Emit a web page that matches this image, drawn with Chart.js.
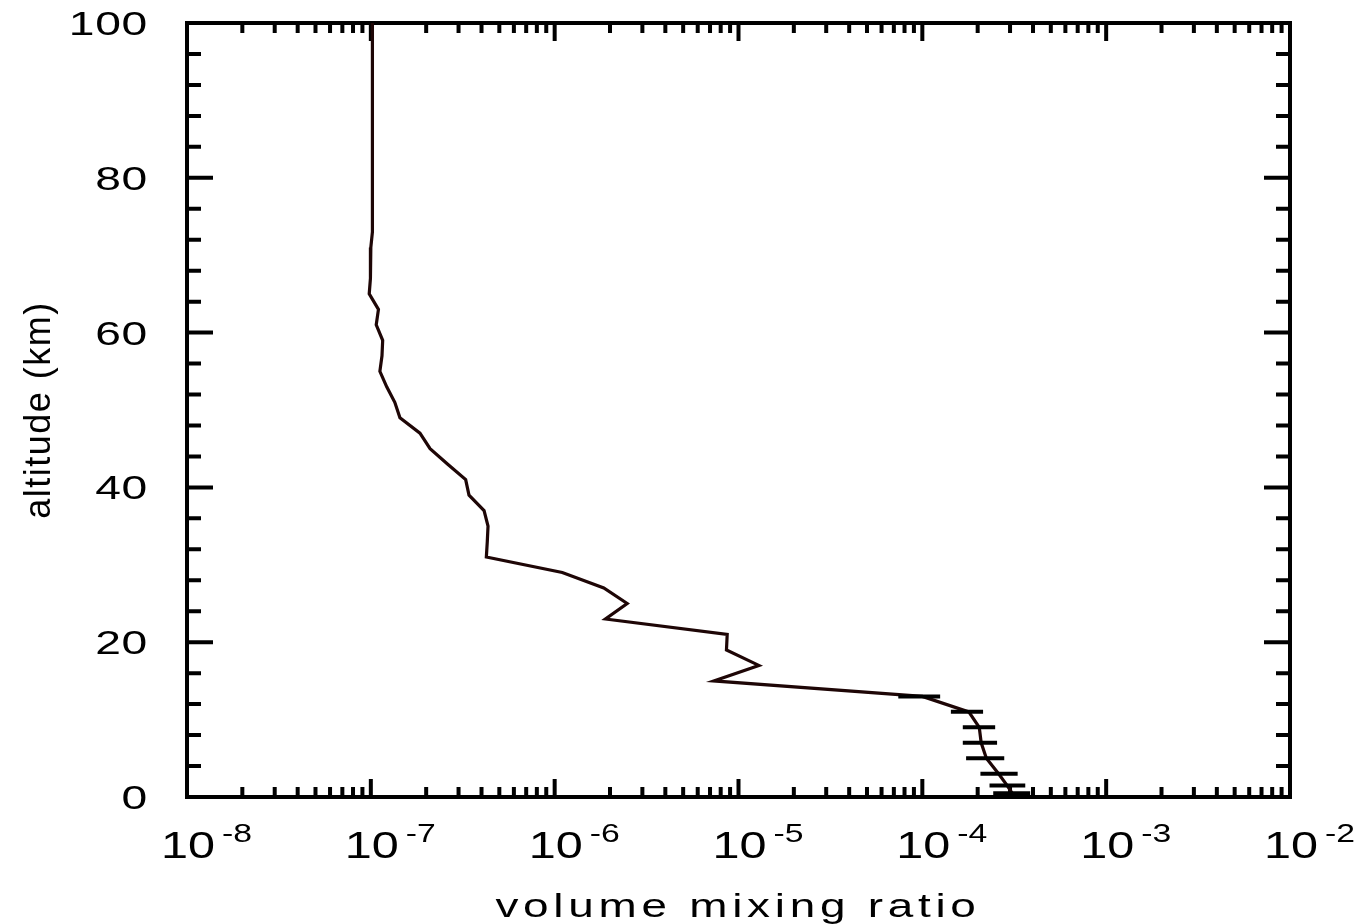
<!DOCTYPE html>
<html>
<head>
<meta charset="utf-8">
<script src="https://cdn.jsdelivr.net/npm/chart.js@4.4.1/dist/chart.umd.min.js"></script>
<style>
  html, body { margin: 0; padding: 0; background: #fff; }
  canvas { display: block; }
</style>
</head>
<body>
<canvas id="perfil" width="1363" height="924"></canvas>
<script>
// perfil vertical: altitud (km) y razon de mezcla
const altitud = [100, 90, 80, 73, 71, 69, 67, 65, 63, 61, 59, 57, 55, 53, 51, 49, 47, 45, 43, 41,
                 39, 37, 35, 33, 31, 29, 27, 25, 23, 21, 19, 17, 15, 13, 11, 9, 7, 5, 3, 1.5, 0.5];
const razonMezcla = [1.02e-7, 1.02e-7, 1.02e-7, 1.02e-7, 1.00e-7, 1.00e-7, 0.99e-7, 0.98e-7, 1.10e-7, 1.07e-7,
                     1.16e-7, 1.15e-7, 1.12e-7, 1.22e-7, 1.35e-7, 1.44e-7, 1.85e-7, 2.10e-7, 2.62e-7, 3.28e-7,
                     3.42e-7, 4.13e-7, 4.34e-7, 4.30e-7, 4.25e-7, 1.10e-6, 1.85e-6, 2.48e-6, 1.89e-6, 8.68e-6,
                     8.60e-6, 1.29e-5, 7.34e-6, 1.00e-4, 1.79e-4, 2.04e-4, 2.09e-4, 2.23e-4, 2.60e-4, 2.89e-4, 3.08e-4];

// barras de error (solo en la parte baja)
const altError = [13, 11, 9, 7, 5, 3, 1.5, 0.5];
const errorMin = [7.4e-5, 1.43e-4, 1.66e-4, 1.66e-4, 1.73e-4, 2.07e-4, 2.32e-4, 2.43e-4];
const errorMax = [1.25e-4, 2.14e-4, 2.49e-4, 2.55e-4, 2.79e-4, 3.30e-4, 3.63e-4, 3.86e-4];

// ejes
const exponentesX = [-8, -7, -6, -5, -4, -3, -2];
const marcasY = [0, 20, 40, 60, 80, 100];
const tituloX = 'volume mixing ratio';
const tituloY = 'altitude (km)';

const FUENTE = '"Liberation Sans", Arial, sans-serif';

function texto(ctx, str, x, y, size, sx, align, spacing) {
    ctx.save();
    ctx.translate(x, y);
    ctx.scale(sx, 1);
    ctx.font = `${size}px ${FUENTE}`;
    ctx.letterSpacing = (spacing || 0) + 'px';
    ctx.textAlign = align;
    ctx.textBaseline = 'alphabetic';
    ctx.fillText(str, 0, 0);
    ctx.restore();
}

const marcoYEtiquetas = {
    id: 'marcoYEtiquetas',
    // marcas y marco debajo de la curva
    beforeDatasetsDraw(chart) {
        const ctx = chart.ctx;
        const x = chart.scales.x;
        const y = chart.scales.y;
        const L = x.getPixelForValue(1e-8), R = x.getPixelForValue(1e-2);
        const T = y.getPixelForValue(100), B = y.getPixelForValue(0);
        ctx.save();
        ctx.strokeStyle = '#000';
        ctx.lineCap = 'butt';
        ctx.lineWidth = 4;

        // eje x: decadas largas, subdivisiones cortas
        for (let e = -8; e < -2; e++) {
            for (let m = 1; m <= 9; m++) {
                if (m === 1 && e === -8) continue;
                const px = x.getPixelForValue(m * Math.pow(10, e));
                const len = m === 1 ? 18 : 10;
                ctx.beginPath();
                ctx.moveTo(px, B); ctx.lineTo(px, B - len);
                ctx.moveTo(px, T); ctx.lineTo(px, T + len);
                ctx.stroke();
            }
        }
        // eje y cada 4 km
        for (let v = 4; v < 100; v += 4) {
            const py = y.getPixelForValue(v);
            const len = v % 20 === 0 ? 26 : 14;
            ctx.beginPath();
            ctx.moveTo(L, py); ctx.lineTo(L + len, py);
            ctx.moveTo(R, py); ctx.lineTo(R - len, py);
            ctx.stroke();
        }
        ctx.strokeRect(L, T, R - L, B - T);

        // etiquetas
        ctx.fillStyle = '#000';
        marcasY.forEach(v => {
            texto(ctx, String(v), 148, y.getPixelForValue(v) + 12, 33, 1.4, 'right', 0.5);
        });
        exponentesX.forEach(e => {
            const px = x.getPixelForValue(Math.pow(10, e));
            texto(ctx, '10', px + 1, 858, 36, 1.35, 'center', 0);
            texto(ctx, String(e), px + 35, 842, 25, 1.35, 'left', 0);
        });

        texto(ctx, tituloX, 738, 917, 34, 1.35, 'center', 3.5);

        ctx.save();
        ctx.translate(50, 410);
        ctx.rotate(-Math.PI / 2);
        texto(ctx, tituloY, 0, 0, 36, 1, 'center', 1.5);
        ctx.restore();

        ctx.restore();
    },
    // barras de error horizontales
    afterDatasetsDraw(chart) {
        const ctx = chart.ctx;
        const x = chart.scales.x;
        const y = chart.scales.y;
        ctx.save();
        ctx.strokeStyle = '#000';
        ctx.lineWidth = 4;
        altError.forEach((a, i) => {
            const py = y.getPixelForValue(a);
            ctx.beginPath();
            ctx.moveTo(x.getPixelForValue(errorMin[i]), py);
            ctx.lineTo(x.getPixelForValue(errorMax[i]), py);
            ctx.stroke();
        });
        ctx.restore();
    }
};

new Chart(document.getElementById('perfil').getContext('2d'), {
    type: 'scatter',
    data: {
        datasets: [{
            data: altitud.map((a, i) => ({ x: razonMezcla[i], y: a })),
            showLine: true,
            borderColor: '#1e0606',
            borderWidth: 3.2,
            pointRadius: 0,
            tension: 0
        }]
    },
    options: {
        responsive: false,
        animation: false,
        layout: { padding: { left: 187, top: 23, right: 73, bottom: 127 } },
        plugins: { legend: { display: false }, tooltip: { enabled: false } },
        scales: {
            x: { type: 'logarithmic', min: 1e-8, max: 1e-2, display: false },
            y: { type: 'linear', min: 0, max: 100, display: false }
        }
    },
    plugins: [marcoYEtiquetas]
});
</script>
</body>
</html>
